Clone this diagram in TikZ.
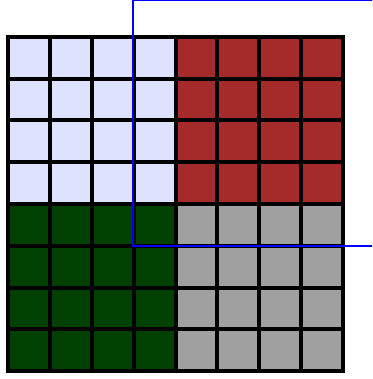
\documentclass[tikz,border=0pt]{standalone}
\definecolor{lightcell}{RGB}{221,227,255}
\definecolor{brickcell}{RGB}{165,42,42}
\definecolor{darkcell}{RGB}{0,64,0}
\definecolor{graycell}{RGB}{160,160,160}
\begin{document}
\begin{tikzpicture}[x=1pt, y=-1pt, line join=miter]
	\useasboundingbox (0,0) rectangle (372,379);
	\clip (0,0) rectangle (372,379);
	% four 4x4 blocks
	\foreach \qx/\qy/\col in {0/0/lightcell, 4/0/brickcell, 0/4/darkcell, 4/4/graycell}
		\foreach \i in {0,...,3}
			\foreach \j in {0,...,3}
				\filldraw[fill=\col, draw=black, line width=4pt]
					({8+41.875*(\qx+\i)},{37+41.75*(\qy+\j)}) rectangle +(41.875,41.75);
	% window
	\draw[blue, line width=2pt] (133,0.5) rectangle (390,246);
\end{tikzpicture}
\end{document}
